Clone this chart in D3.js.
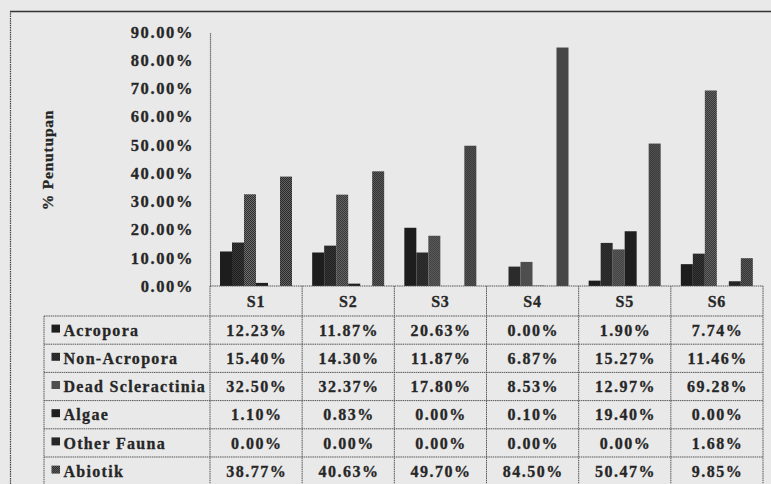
<!DOCTYPE html>
<html>
<head>
<meta charset="utf-8">
<script src="https://cdn.jsdelivr.net/npm/d3@7/dist/d3.min.js"></script>
<style>
  html, body { margin: 0; padding: 0; background: #e9e9e9; }
  svg { display: block; }
</style>
</head>
<body>
<div id="chart"></div>
<script>
// Coral reef cover (%) per station
const sites = ["S1", "S2", "S3", "S4", "S5", "S6"];
const seriesNames = ["Acropora", "Non-Acropora", "Dead Scleractinia", "Algae", "Other Fauna", "Abiotik"];
const acropora         = [12.23, 11.87, 20.63, 0.00, 1.90, 7.74];
const nonAcropora      = [15.40, 14.30, 11.87, 6.87, 15.27, 11.46];
const deadScleractinia = [32.50, 32.37, 17.80, 8.53, 12.97, 69.28];
const algae            = [1.10, 0.83, 0.00, 0.10, 19.40, 0.00];
const otherFauna       = [0.00, 0.00, 0.00, 0.00, 0.00, 1.68];
const abiotik          = [38.77, 40.63, 49.70, 84.50, 50.47, 9.85];
const yTicks = [0, 10, 20, 30, 40, 50, 60, 70, 80, 90];
const yTitle = "% Penutupan";

const seriesValues = [acropora, nonAcropora, deadScleractinia, algae, otherFauna, abiotik];

const FONT = "'Liberation Serif', 'Times New Roman', serif";
const W = 771, H = 484;
const svg = d3.select("#chart").append("svg").attr("width", W).attr("height", H);
svg.append("rect").attr("width", W).attr("height", H).attr("fill", "#e9e9e9");

function styleText(sel, size, spacing) {
  sel.style("font-family", FONT).style("font-weight", "bold")
    .style("font-size", size + "px").style("letter-spacing", spacing + "px")
    .attr("fill", "#262626").attr("stroke", "#262626").attr("stroke-width", 0.3);
}

// Fine speckled fills for the grey series
const defs = svg.append("defs");
function speckle(id, dark, light) {
  const p = defs.append("pattern").attr("id", id).attr("patternUnits", "userSpaceOnUse")
    .attr("width", 2).attr("height", 2);
  p.append("rect").attr("width", 2).attr("height", 2).attr("fill", dark);
  p.append("rect").attr("x", 1).attr("y", 0).attr("width", 1).attr("height", 1).attr("fill", light);
  p.append("rect").attr("x", 0).attr("y", 1).attr("width", 1).attr("height", 1).attr("fill", light);
}
speckle("spDead", "#2e2e2e", "#6e6e6e");
speckle("spAbio", "#2a2a2a", "#626262");
speckle("spNon", "#1c1c1c", "#3a3a3a");
const fills = ["#1d1d1d", "url(#spNon)", "url(#spDead)", "#1f1f1f", "#262626", "url(#spAbio)"];

// Scales
const x0 = d3.scaleBand().domain(sites).range([210, 763]).padding(0);
const x1 = d3.scaleBand().domain(seriesNames).range([10, 82]).padding(0);
const y = d3.scaleLinear().domain([0, 90]).range([286, 32]);

// Outer frame
svg.append("line").attr("x1", 10).attr("x2", W).attr("y1", 11.5).attr("y2", 11.5)
  .attr("stroke", "#333").attr("stroke-width", 1.5);
svg.append("line").attr("x1", 10.5).attr("x2", 10.5).attr("y1", 11).attr("y2", H)
  .attr("stroke", "#444").attr("stroke-width", 1.2).attr("stroke-dasharray", "1.5,0.8");

// Y axis
const yAxis = d3.axisLeft(y).tickValues(yTicks)
  .tickFormat(d => d.toFixed(2) + "%").tickSize(0).tickSizeOuter(0).tickPadding(16);
const gy = svg.append("g").attr("transform", "translate(210,0)").call(yAxis);
gy.attr("font-family", null).attr("font-size", null);
gy.select(".domain").attr("stroke", "#555").attr("stroke-width", 1.2).attr("stroke-dasharray", "1.2,0.8");
styleText(gy.selectAll("text"), 16.5, 1.6);

// Y title
styleText(svg.append("text").attr("transform", "translate(53,160) rotate(-90)")
  .attr("text-anchor", "middle").text(yTitle), 15.5, 0.8);

// Bars
const groups = svg.append("g").selectAll("g").data(sites).join("g")
  .attr("transform", d => `translate(${x0(d)},0)`);
groups.selectAll("rect")
  .data((s, i) => seriesNames.map((n, k) => ({ name: n, k, value: seriesValues[k][i] })))
  .join("rect")
  .attr("x", d => x1(d.name))
  .attr("width", x1.bandwidth())
  .attr("y", d => y(d.value))
  .attr("height", d => y(0) - y(d.value))
  .attr("fill", d => fills[d.k]);

// Data table
const headerTop = 286, headerBottom = 316, rowH = 28.2;
const tableLeft = 44, tableRight = 763;
const rowTop = i => headerBottom + i * rowH;
const lines = svg.append("g").attr("stroke", "#555").attr("stroke-width", 1).attr("stroke-dasharray", "1.5,0.7");

// baseline / header top
lines.append("line").attr("x1", 210).attr("x2", tableRight).attr("y1", headerTop).attr("y2", headerTop);
// horizontal row lines
for (let i = 0; i <= seriesNames.length; i++) {
  lines.append("line").attr("x1", tableLeft).attr("x2", tableRight)
    .attr("y1", rowTop(i)).attr("y2", rowTop(i));
}
// vertical lines
const colEdges = sites.map(s => x0(s)).concat([x0.range()[1]]);
colEdges.forEach(xe => {
  lines.append("line").attr("x1", xe).attr("x2", xe).attr("y1", headerTop).attr("y2", H);
});
lines.append("line").attr("x1", tableLeft).attr("x2", tableLeft).attr("y1", headerBottom).attr("y2", H);

// Header labels
styleText(svg.append("g").selectAll("text").data(sites).join("text")
  .attr("x", d => x0(d) + x0.bandwidth() / 2).attr("y", (headerTop + headerBottom) / 2)
  .attr("dy", "0.35em").attr("text-anchor", "middle")
  .text(d => d), 16, 0.8);

// Legend column with swatches
const legendRows = svg.append("g").selectAll("g").data(seriesNames).join("g")
  .attr("transform", (d, i) => `translate(0,${rowTop(i) + rowH / 2})`);
legendRows.append("rect").attr("x", 51.5).attr("y", -5.5).attr("width", 8.5).attr("height", 8)
  .attr("fill", (d, i) => fills[i]);
styleText(legendRows.append("text").attr("x", 63.5).attr("dy", "0.35em").text(d => d), 16, 1.3);

// Value cells
seriesValues.forEach((vals, k) => {
  styleText(svg.append("g").selectAll("text").data(vals).join("text")
    .attr("x", (v, i) => x0(sites[i]) + x0.bandwidth() / 2 + 0.7)
    .attr("y", rowTop(k) + rowH / 2).attr("dy", "0.35em").attr("text-anchor", "middle")
    .text(v => v.toFixed(2) + "%"), 16, 1.5);
});
</script>
</body>
</html>
